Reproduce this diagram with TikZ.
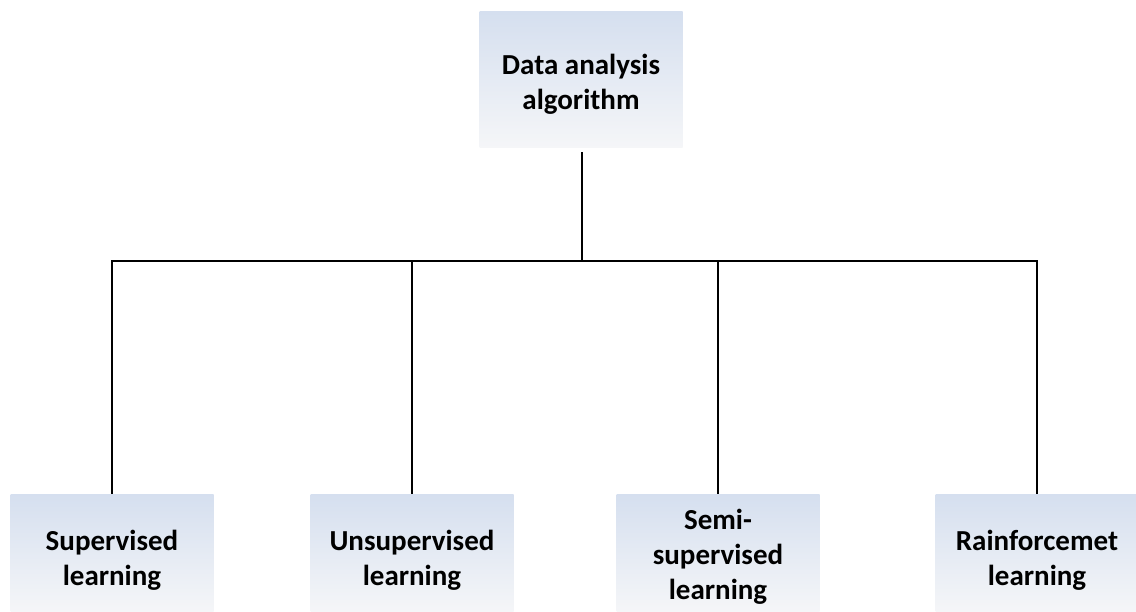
\documentclass[tikz,border=0pt]{standalone}
\usepackage{fontspec}
\setmainfont{Carlito}
\definecolor{gtop}{HTML}{D5DFEF}
\definecolor{gmid}{HTML}{A9B2C2}
\definecolor{gbot}{HTML}{F5F6F8}
\begin{document}
\begin{tikzpicture}[x=1pt,y=-1pt,
  gbox/.style={top color=gtop, middle color=gmid, bottom color=gbot, draw=none,
    minimum width=203pt, inner sep=0pt, align=center,
    font=\fontsize{29}{35}\selectfont\bfseries},
  link/.style={draw=black, line width=1.8pt}]
\useasboundingbox (0,0) rectangle (1136,612);
\node[gbox, minimum height=136pt] (top) at (581,80) {};
\node[align=center, font=\fontsize{29}{35}\selectfont\bfseries] (toptext) at (581,84) {Data analysis\\algorithm};
\node[gbox, minimum height=118pt] (b1) at (112,553) {};
\node[gbox, minimum height=118pt] (b2) at (412,553) {};
\node[gbox, minimum height=118pt] (b3) at (718,553) {};
\node[gbox, minimum height=118pt] (b4) at (1037,553) {};
\node[align=center, font=\fontsize{29}{35}\selectfont\bfseries] (t1) at (112,560) {Supervised\\learning};
\node[align=center, font=\fontsize{29}{35}\selectfont\bfseries] (t2) at (412,560) {Unsupervised\\learning};
\node[align=center, font=\fontsize{29}{35}\selectfont\bfseries] (t3) at (718,557) {Semi-\\supervised\\learning};
\node[align=center, font=\fontsize{29}{35}\selectfont\bfseries] (t4) at (1037,560) {Rainforcemet\\learning};
\coordinate (j) at (582,261);
\draw[link] (top.south -| j) ++(0,4) -- (j);
\draw[link] (b1.north) |- (j) -| (b4.north);
\draw[link] (b2.north) -- (b2.north |- j);
\draw[link] (b3.north) -- (b3.north |- j);
\end{tikzpicture}
\end{document}
